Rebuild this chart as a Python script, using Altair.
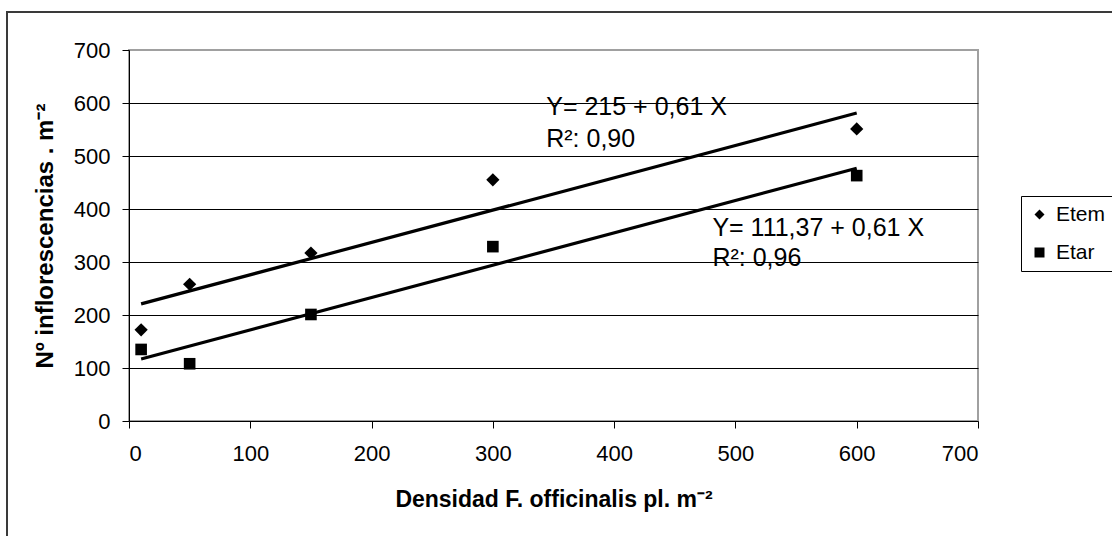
import altair as alt
import pandas as pd

# ---- data ----
densidad = [10, 50, 150, 300, 600]
etem = [172, 258, 317, 455, 551]
etar = [135, 108, 201, 329, 463]
series = ["Etem", "Etar"]

fit_x = [10, 600]
fit_etem = [221, 581]
fit_etar = [117, 477]

ann_text = ["Y= 215 + 0,61 X", "R²: 0,90", "Y= 111,37 + 0,61 X", "R²: 0,96"]
ann_x = [344, 344, 481, 481]
ann_y = [592, 533, 364, 308]

x_ticks = [0, 100, 200, 300, 400, 500, 600, 700]
y_ticks = [0, 100, 200, 300, 400, 500, 600, 700]

FONT = "Liberation Sans"

pts = pd.DataFrame(
    {
        "x": densidad * 2,
        "y": etem + etar,
        "serie": [series[0]] * len(densidad) + [series[1]] * len(densidad),
    }
)
fits = pd.DataFrame(
    {
        "x": fit_x * 2,
        "y": fit_etem + fit_etar,
        "serie": [series[0]] * 2 + [series[1]] * 2,
    }
)
ann = pd.DataFrame({"t": ann_text, "x": ann_x, "y": ann_y})

xscale = alt.Scale(domain=[0, 700], nice=False)
yscale = alt.Scale(domain=[0, 700], nice=False)

x_axis = alt.Axis(
    values=x_ticks,
    grid=False,
    tickSize=7,
    tickColor="black",
    domainColor="black",
    labelFont=FONT,
    labelFontSize=22,
    labelColor="black",
    labelPadding=15,
    title="Densidad F. officinalis pl. m⁻²",
    titleFont=FONT,
    titleFontSize=23,
    titleFontWeight="bold",
    titleColor="black",
    titlePadding=24,
)
y_axis = alt.Axis(
    values=y_ticks,
    grid=True,
    gridColor="black",
    gridWidth=1,
    gridOpacity={"condition": {"test": "datum.value === 0 || datum.value === 700", "value": 0}, "value": 1},
    tickSize=7,
    tickColor="black",
    domainColor="black",
    labelFont=FONT,
    labelFontSize=22,
    labelColor="black",
    labelPadding=12,
    title="Nº inflorescencias . m⁻²",
    titleFont=FONT,
    titleFontSize=24,
    titleFontWeight="bold",
    titleColor="black",
    titlePadding=16,
)

frame = (
    alt.Chart(alt.Data(values=[{"a": 1}]))
    .mark_rect(fill="white", fillOpacity=0, stroke="#3a3a3a", strokeWidth=2)
    .encode(
        x=alt.value(-122),
        x2=alt.value(1200),
        y=alt.value(-38),
        y2=alt.value(700),
    )
)

lines = (
    alt.Chart(fits)
    .mark_line(color="black", strokeWidth=3.2)
    .encode(
        x=alt.X("x:Q", scale=xscale, axis=x_axis),
        y=alt.Y("y:Q", scale=yscale, axis=y_axis),
        detail="serie:N",
    )
)

points = (
    alt.Chart(pts)
    .mark_point(filled=True, color="black", opacity=1)
    .encode(
        x=alt.X("x:Q", scale=xscale),
        y=alt.Y("y:Q", scale=yscale),
        shape=alt.Shape(
            "serie:N",
            scale=alt.Scale(domain=series, range=["diamond", "square"]),
            sort=series,
            legend=alt.Legend(
                title=None,
                orient="none",
                legendX=892,
                legendY=146,
                strokeColor="black",
                fillColor="white",
                padding=8,
                labelFont=FONT,
                labelFontSize=21,
                labelColor="black",
                labelOffset=6,
                rowPadding=16,
                symbolSize=100,
                symbolFillColor="black",
                symbolStrokeColor="black",
            ),
        ),
        size=alt.condition("datum.serie === 'Etem'", alt.value(175), alt.value(135)),
    )
)

texts = (
    alt.Chart(ann)
    .mark_text(align="left", baseline="middle", font=FONT, fontSize=25, color="black")
    .encode(
        x=alt.X("x:Q", scale=xscale),
        y=alt.Y("y:Q", scale=yscale),
        text="t:N",
    )
)

chart = (
    alt.layer(frame, lines, points, texts)
    .properties(
        width=849,
        height=371,
        autosize=alt.AutoSizeParams(type="none"),
        padding={"left": 129, "top": 50, "right": 134, "bottom": 115},
        background="white",
    )
    .configure_view(stroke="#a0a0a0", strokeWidth=2)
)

chart.save("out.html", embed_options={"renderer": "svg", "actions": False})
